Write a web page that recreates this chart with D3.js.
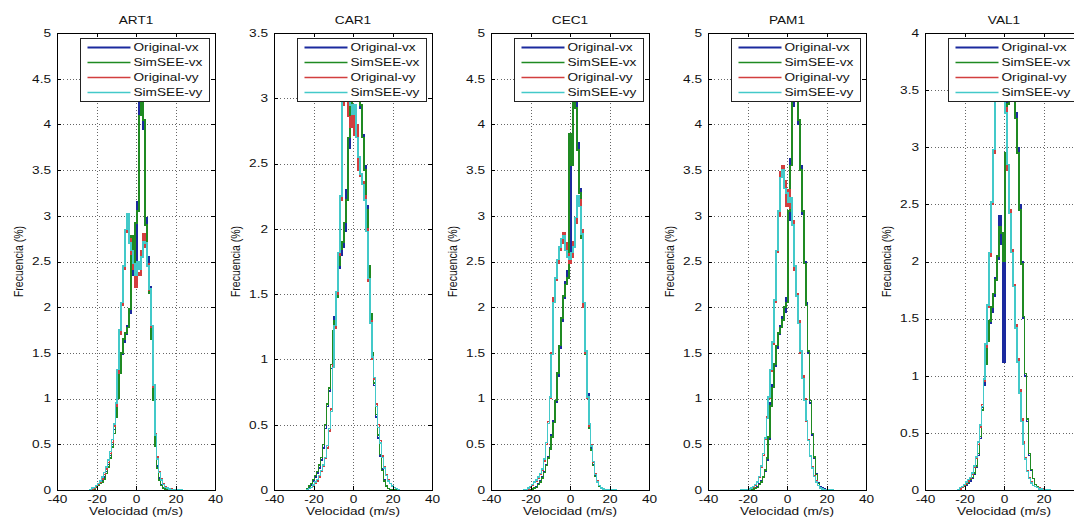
<!DOCTYPE html>
<html>
<head>
<meta charset="utf-8">
<script src="https://cdn.jsdelivr.net/npm/d3@7"></script>
<style>
  html, body { margin: 0; padding: 0; background: #fff; }
  svg { display: block; }
</style>
</head>
<body>
<svg id="chart" width="1074" height="517"></svg>
<script>
// Velocity bin centres (m/s)
const velocidad = [-24,-23,-22,-21,-20,-19,-18,-17,-16,-15,-14,-13,-12,-11,-10,-9,-8,-7,-6,-5,-4,-3,-2,-1,
                   0,1,2,3,4,5,6,7,8,9,10,11,12,13,14,15,16,17,18,19,20,21,22,23,24];

const estaciones = ["ART1", "CAR1", "CEC1", "PAM1", "VAL1"];
const yMaximo = [5, 3.5, 5, 5, 4];
const xTicks = [-40, -20, 0, 20, 40];
const seriesNombres = ["Original-vx", "SimSEE-vx", "Original-vy", "SimSEE-vy"];
const seriesColores = ["#1b2a9e", "#1f8a22", "#d23e3e", "#43c9c9"];
const seriesAnchos = [1.5, 1.5, 1.5, 1.5];

// Frequency (%) per velocity bin, one array per station and series
const art1OriginalVx = [0,0,0,0.02,0.04,0.06,0.08,0.10, 0.14,0.20,0.28,0.38,0.50,0.66,0.85,1.05, 1.32,1.48,1.62,1.70,1.80,1.93,2.35,2.62, 2.48,3.15,4.25,4.72,3.95,2.98,2.55,2.22, 1.72,1.02,0.52,0.26,0.13,0.06,0.03,0.01, 0,0,0,0,0,0,0,0,0];
const art1SimseeVx   = [0,0,0,0.01,0.03,0.05,0.07,0.09, 0.12,0.18,0.25,0.35,0.47,0.62,0.80,1.00, 1.28,1.50,1.65,1.72,1.78,1.98,2.78,2.45, 2.92,3.05,4.10,4.80,4.05,2.90,2.48,2.15, 1.65,0.98,0.48,0.24,0.11,0.05,0.02,0.01, 0,0,0,0,0,0,0,0,0];
const art1OriginalVy = [0,0,0.01,0.02,0.04,0.06,0.09,0.12, 0.17,0.23,0.30,0.40,0.52,0.70,0.92,1.28, 1.70,2.02,2.42,2.82,2.98,2.75,2.58,2.42, 2.22,2.38,2.35,2.62,2.80,2.66,2.48,2.18, 1.78,1.12,0.62,0.36,0.20,0.12,0.07,0.04, 0.02,0.01,0.01,0,0,0,0,0,0];
const art1SimseeVy   = [0,0,0.02,0.03,0.05,0.07,0.10,0.14, 0.19,0.25,0.33,0.42,0.55,0.72,0.95,1.32, 1.75,2.05,2.45,2.85,3.02,2.70,2.62,2.48, 2.35,2.50,2.42,2.55,2.72,2.70,2.45,2.20, 1.80,1.15,0.60,0.34,0.19,0.11,0.06,0.03, 0.02,0.01,0,0,0,0,0,0,0];

const car1OriginalVx = [0,0,0.02,0.04,0.07,0.10,0.13,0.17, 0.23,0.32,0.47,0.64,0.76,0.93,1.18,1.33, 1.52,1.70,1.80,1.86,1.98,2.30,2.62,2.92, 3.18,3.36,3.30,3.12,2.92,2.72,2.48,2.18, 1.68,1.32,1.02,0.80,0.56,0.40,0.26,0.16, 0.08,0.03,0.01,0,0,0,0,0,0];
const car1SimseeVx   = [0,0.01,0.03,0.05,0.08,0.11,0.14,0.19, 0.25,0.35,0.50,0.66,0.78,0.96,1.22,1.30, 1.48,1.72,1.84,1.90,2.05,2.22,2.70,2.96, 3.10,3.30,3.38,3.20,2.95,2.70,2.45,2.15, 1.72,1.35,1.05,0.82,0.58,0.42,0.27,0.15, 0.07,0.03,0.01,0,0,0,0,0,0];
const car1OriginalVy = [0,0,0.01,0.02,0.03,0.05,0.07,0.10, 0.14,0.18,0.24,0.32,0.45,0.62,0.96,1.24, 1.50,1.80,2.22,2.95,3.28,3.15,2.86,2.78, 2.90,2.72,2.80,2.45,2.40,2.36,2.25,2.00, 1.60,1.30,1.00,0.85,0.66,0.50,0.38,0.26, 0.18,0.12,0.08,0.05,0.03,0.02,0.01,0,0];
const car1SimseeVy   = [0,0,0.01,0.02,0.04,0.06,0.08,0.11, 0.15,0.19,0.25,0.34,0.47,0.60,0.94,1.26, 1.52,1.82,2.25,3.05,3.32,3.22,3.10,2.95, 2.88,2.95,2.70,2.55,2.42,2.34,2.22,1.98, 1.62,1.28,1.02,0.86,0.64,0.48,0.36,0.25, 0.17,0.11,0.07,0.05,0.03,0.02,0.01,0,0];

const cec1OriginalVx = [0,0,0,0,0,0.01,0.02,0.04, 0.07,0.10,0.14,0.20,0.28,0.36,0.46,0.60, 0.76,0.96,1.25,1.55,1.85,2.10,2.28,2.40, 2.55,3.72,4.55,4.25,3.80,3.30,2.80,2.02, 1.50,1.05,0.70,0.46,0.28,0.16,0.09,0.05, 0.02,0.01,0,0,0,0,0,0,0];
const cec1SimseeVx   = [0,0,0,0,0,0.01,0.02,0.03, 0.06,0.09,0.13,0.19,0.27,0.35,0.45,0.58, 0.74,0.98,1.28,1.58,1.88,2.12,2.25,2.32, 3.90,3.55,4.62,4.18,3.72,3.25,2.75,2.05, 1.48,1.02,0.68,0.44,0.27,0.15,0.08,0.04, 0.02,0.01,0,0,0,0,0,0,0];
const cec1OriginalVy = [0,0,0,0.01,0.03,0.05,0.08,0.10, 0.13,0.17,0.22,0.32,0.50,0.75,1.00,1.50, 2.10,2.30,2.48,2.62,2.70,2.82,2.70,2.58, 2.48,2.55,2.72,2.92,3.12,3.18,2.85,2.00, 1.50,1.00,0.70,0.50,0.30,0.18,0.10,0.05, 0.03,0.01,0,0,0,0,0,0,0];
const cec1SimseeVy   = [0,0,0,0.02,0.04,0.06,0.09,0.11, 0.14,0.18,0.23,0.34,0.52,0.73,1.02,1.48, 2.05,2.32,2.52,2.66,2.75,2.78,2.62,2.55, 2.52,2.60,2.66,2.98,3.22,3.10,2.80,2.05, 1.52,1.02,0.72,0.48,0.31,0.17,0.09,0.05, 0.02,0.01,0,0,0,0,0,0,0];

const pam1OriginalVx = [0,0,0,0,0,0,0,0.01, 0.02,0.04,0.07,0.10,0.15,0.20,0.33,0.55, 0.95,1.15,1.35,1.55,1.70,1.80,1.90,1.95, 2.10,2.95,3.62,4.20,4.62,4.42,4.00,3.55, 3.02,2.50,2.05,1.50,0.95,0.60,0.35,0.18, 0.08,0.04,0.02,0.01,0,0,0,0,0];
const pam1SimseeVx   = [0,0,0,0,0,0,0,0.01, 0.02,0.03,0.06,0.09,0.14,0.22,0.35,0.58, 0.92,1.12,1.38,1.58,1.72,1.78,1.86,2.00, 2.05,3.05,3.55,4.28,4.55,4.48,4.05,3.50, 3.05,2.48,2.02,1.52,0.98,0.62,0.36,0.17, 0.07,0.03,0.01,0,0,0,0,0,0];
const pam1OriginalVy = [0,0,0,0,0,0,0.02,0.03, 0.05,0.08,0.14,0.25,0.38,0.55,0.80,1.00, 1.30,1.60,2.05,2.60,3.00,3.48,3.55,3.38, 3.10,3.28,3.08,2.95,2.40,2.15,1.85,1.50, 1.25,1.00,0.75,0.55,0.38,0.25,0.16,0.10, 0.05,0.02,0.01,0,0,0,0,0,0];
const pam1SimseeVy   = [0,0,0,0,0,0.01,0.02,0.04, 0.06,0.09,0.15,0.26,0.40,0.57,0.78,1.02, 1.32,1.62,2.08,2.62,3.05,3.42,3.50,3.30, 3.25,3.15,3.20,2.90,2.45,2.12,1.82,1.52, 1.22,0.98,0.76,0.54,0.37,0.24,0.15,0.09, 0.05,0.02,0.01,0,0,0,0,0,0];

const val1OriginalVx = [0,0,0.01,0.02,0.03,0.04,0.06,0.08, 0.10,0.14,0.20,0.30,0.45,0.72,0.92,1.12, 1.32,1.46,1.56,1.70,1.86,2.02,2.40,2.15, 1.12,2.85,3.42,3.62,3.70,3.55,3.30,3.00, 2.50,2.00,1.50,1.00,0.60,0.30,0.17,0.10, 0.05,0.03,0.02,0.01,0,0,0,0,0];
const val1SimseeVx   = [0,0,0.01,0.02,0.03,0.05,0.07,0.09, 0.11,0.15,0.21,0.32,0.47,0.70,0.95,1.10, 1.30,1.48,1.60,1.72,1.84,2.05,2.30,2.25, 2.00,2.95,3.38,3.58,3.66,3.50,3.25,2.95, 2.45,1.98,1.52,1.02,0.62,0.32,0.18,0.10, 0.05,0.03,0.02,0.01,0,0,0,0,0];
const val1OriginalVy = [0,0,0.01,0.02,0.04,0.06,0.08,0.10, 0.14,0.20,0.28,0.40,0.55,0.75,0.95,1.25, 1.60,2.05,2.50,2.95,3.45,3.70,3.85,3.80, 3.70,3.35,2.80,2.45,2.10,1.80,1.45,1.15, 0.88,0.62,0.42,0.28,0.17,0.11,0.07,0.04, 0.03,0.02,0.02,0.01,0.01,0,0,0,0];
const val1SimseeVy   = [0,0,0.02,0.03,0.05,0.07,0.09,0.11, 0.15,0.21,0.29,0.42,0.57,0.73,0.97,1.28, 1.62,2.08,2.52,2.98,3.42,3.75,3.88,3.78, 3.65,3.30,2.85,2.42,2.08,1.78,1.42,1.12, 0.85,0.60,0.40,0.27,0.16,0.10,0.06,0.04, 0.03,0.02,0.01,0.01,0,0,0,0,0];

// Table of series per station, in drawing order
const frecuencias = {
  ART1: [art1OriginalVx, art1SimseeVx, art1OriginalVy, art1SimseeVy],
  CAR1: [car1OriginalVx, car1SimseeVx, car1OriginalVy, car1SimseeVy],
  CEC1: [cec1OriginalVx, cec1SimseeVx, cec1OriginalVy, cec1SimseeVy],
  PAM1: [pam1OriginalVx, pam1SimseeVx, pam1OriginalVy, pam1SimseeVy],
  VAL1: [val1OriginalVx, val1SimseeVx, val1OriginalVy, val1SimseeVy]
};

// Layout
const panelLeft0 = 57, panelStep = 217, plotW = 158, plotTop = 33, plotH = 457;
const fontFam = '"Liberation Sans", Arial, Helvetica, sans-serif';
const fontSize = 10.5;
const sx = 1.3;   // horizontal stretch applied to all lettering
const tickLen = 4;

const svg = d3.select("#chart");
svg.append("rect").attr("width", 1074).attr("height", 517).attr("fill", "#fff");

function texto(parent, str, x, y, anchor, rotated) {
  return parent.append("text")
    .attr("transform", rotated
      ? `translate(${x},${y}) rotate(-90) scale(1,${sx})`
      : `translate(${x},${y}) scale(${sx},1)`)
    .attr("text-anchor", anchor)
    .attr("font-family", fontFam)
    .attr("font-size", fontSize)
    .attr("fill", "#111")
    .text(str);
}

function estiloEje(sel, conTexto) {
  sel.select(".domain").remove();
  sel.attr("font-family", fontFam).attr("font-size", fontSize);
  sel.selectAll(".tick line").attr("stroke", "#000").attr("stroke-width", 1)
    .attr("shape-rendering", "crispEdges");
  if (conTexto) {
    sel.selectAll(".tick text").attr("fill", "#111")
      .attr("transform", `scale(${sx},1)`);
  } else {
    sel.selectAll(".tick text").remove();
  }
}

estaciones.forEach((est, i) => {
  const left = panelLeft0 + i * panelStep;
  const x = d3.scaleLinear().domain([-40, 40]).range([0, plotW]);
  const y = d3.scaleLinear().domain([0, yMaximo[i]]).range([plotH, 0]);
  const yTicks = y.ticks(10);

  const g = svg.append("g").attr("transform", `translate(${left},${plotTop})`);

  // dotted grid
  const grid = g.append("g").attr("stroke", "#555").attr("stroke-width", 0.9)
    .attr("stroke-dasharray", "1,2.2").attr("shape-rendering", "crispEdges");
  grid.selectAll("line.gx").data(xTicks.filter(t => t > -40 && t < 40)).join("line")
    .attr("class", "gx")
    .attr("x1", d => Math.round(x(d)) + 0.5).attr("x2", d => Math.round(x(d)) + 0.5)
    .attr("y1", 0).attr("y2", plotH);
  grid.selectAll("line.gy").data(yTicks.filter(t => t > 0 && t < yMaximo[i])).join("line")
    .attr("class", "gy")
    .attr("y1", d => Math.round(y(d)) + 0.5).attr("y2", d => Math.round(y(d)) + 0.5)
    .attr("x1", 0).attr("x2", plotW);

  // data lines, clipped to the plot area
  const clipId = "clip-" + est;
  g.append("clipPath").attr("id", clipId)
    .append("rect").attr("width", plotW).attr("height", plotH);

  const linea = d3.line()
    .x((d, k) => x(velocidad[k]))
    .y(d => y(d))
    .curve(d3.curveStep);

  const lineas = g.append("g").attr("clip-path", `url(#${clipId})`);
  frecuencias[est].forEach((serie, s) => {
    lineas.append("path")
      .datum(serie)
      .attr("fill", "none")
      .attr("stroke", seriesColores[s])
      .attr("stroke-width", seriesAnchos[s])
      .attr("shape-rendering", "crispEdges")
      .attr("d", linea);
  });

  // axes box
  g.append("rect").attr("x", 0.5).attr("y", 0.5).attr("width", plotW).attr("height", plotH)
    .attr("fill", "none").attr("stroke", "#000").attr("stroke-width", 1)
    .attr("shape-rendering", "crispEdges");

  // ticks pointing inward on all four sides
  g.append("g").attr("transform", `translate(0,${plotH})`)
    .call(d3.axisBottom(x).tickValues(xTicks).tickSize(-tickLen).tickPadding(5.5).tickFormat(String))
    .call(a => estiloEje(a, true));
  g.append("g")
    .call(d3.axisTop(x).tickValues(xTicks).tickSize(-tickLen))
    .call(a => estiloEje(a, false));
  g.append("g")
    .call(d3.axisLeft(y).tickValues(yTicks).tickSize(-tickLen).tickPadding(6 / sx).tickFormat(String))
    .call(a => estiloEje(a, true));
  g.append("g").attr("transform", `translate(${plotW},0)`)
    .call(d3.axisRight(y).tickValues(yTicks).tickSize(-tickLen))
    .call(a => estiloEje(a, false));

  // title and axis labels
  texto(g, est, plotW / 2, -9, "middle", false);
  texto(g, "Velocidad (m/s)", plotW / 2, plotH + 25, "middle", false);
  texto(g, "Frecuencia (%)", -34, plotH / 2, "middle", true);

  // legend
  const lg = g.append("g").attr("transform", "translate(22.5,5)");
  lg.append("rect").attr("x", 0.5).attr("y", 0.5).attr("width", 129).attr("height", 63)
    .attr("fill", "#fff").attr("stroke", "#222").attr("stroke-width", 1)
    .attr("shape-rendering", "crispEdges");
  seriesNombres.forEach((nombre, s) => {
    const cy = 9.5 + s * 15;
    lg.append("line").attr("x1", 8).attr("x2", 51).attr("y1", cy).attr("y2", cy)
      .attr("stroke", seriesColores[s]).attr("stroke-width", s === 0 ? 2 : 1.4);
    texto(lg, nombre, 54, cy + 3.8, "start", false);
  });
});
</script>
</body>
</html>
